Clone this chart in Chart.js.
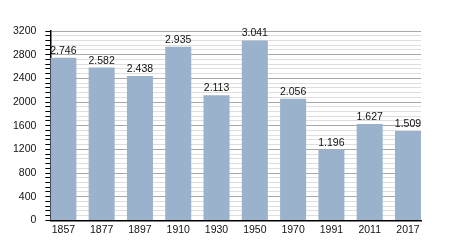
<!DOCTYPE html>
<html>
<head>
<meta charset="utf-8">
<script src="https://cdn.jsdelivr.net/npm/chart.js@4"></script>
<style>
  html, body { margin: 0; padding: 0; background: #fff; }
  #wrap { width: 450px; height: 250px; }
</style>
</head>
<body>
<div id="wrap"><canvas id="chart" width="450" height="250"></canvas></div>
<script>
// ---- data ----
const years = ['1857', '1877', '1897', '1910', '1930', '1950', '1970', '1991', '2011', '2017'];
const population = [2746, 2582, 2438, 2935, 2113, 3041, 2056, 1196, 1627, 1509];
const yMax = 3200;
const yMajorStep = 400;
const yMinorStep = 80;

const FONT = 'Liberation Sans, Arial, sans-serif';

// german style thousands separator: 2746 -> "2.746"
function fmt(v) {
    const s = String(v);
    return s.length > 3 ? s.slice(0, -3) + '.' + s.slice(-3) : s;
}

const valueLabels = {
    id: 'valueLabels',
    afterDatasetsDraw(chart) {
        const ctx = chart.ctx;
        const meta = chart.getDatasetMeta(0);
        ctx.save();
        ctx.font = '10.5px ' + FONT;
        ctx.fillStyle = '#111';
        ctx.textAlign = 'center';
        ctx.textBaseline = 'alphabetic';
        meta.data.forEach((bar, i) => {
            ctx.fillText(fmt(population[i]), bar.x, bar.y - 4);
        });
        ctx.restore();
    }
};

new Chart(document.getElementById('chart'), {
    type: 'bar',
    data: {
        datasets: [{
            data: population.map((v, i) => ({ x: i, y: v })),
            backgroundColor: '#9ab2cc',
            borderWidth: 0,
            barPercentage: 0.68,
            categoryPercentage: 1
        }]
    },
    options: {
        responsive: false,
        animation: false,
        layout: { padding: { left: 4, right: 29, top: 31, bottom: 11 } },
        plugins: { legend: { display: false }, tooltip: { enabled: false } },
        scales: {
            x: {
                type: 'linear',
                offset: false,
                min: -0.34,
                max: years.length - 1 + 0.34,
                afterBuildTicks: (scale) => {
                    scale.ticks = years.map((_, i) => ({ value: i }));
                },
                grid: { display: false, drawTicks: false },
                border: { display: true, color: '#000', width: 1.5 },
                ticks: {
                    autoSkip: false,
                    maxRotation: 0,
                    padding: 3,
                    color: '#111',
                    font: { family: FONT, size: 10.5 },
                    callback: (v) => years[v]
                }
            },
            y: {
                min: 0,
                max: yMax,
                ticks: {
                    stepSize: yMinorStep,
                    autoSkip: false,
                    padding: 9,
                    color: '#111',
                    font: { family: FONT, size: 10.5 },
                    callback: (v) => (v % yMajorStep === 0 ? String(v) : '')
                },
                grid: {
                    color: (c) => (c.tick && c.tick.value % yMajorStep === 0 ? '#a8a8a8' : '#dedede'),
                    tickColor: '#000',
                    tickLength: 5,
                    lineWidth: 1
                },
                border: { display: true, color: '#000', width: 1.5 }
            }
        }
    },
    plugins: [valueLabels]
});
</script>
</body>
</html>
